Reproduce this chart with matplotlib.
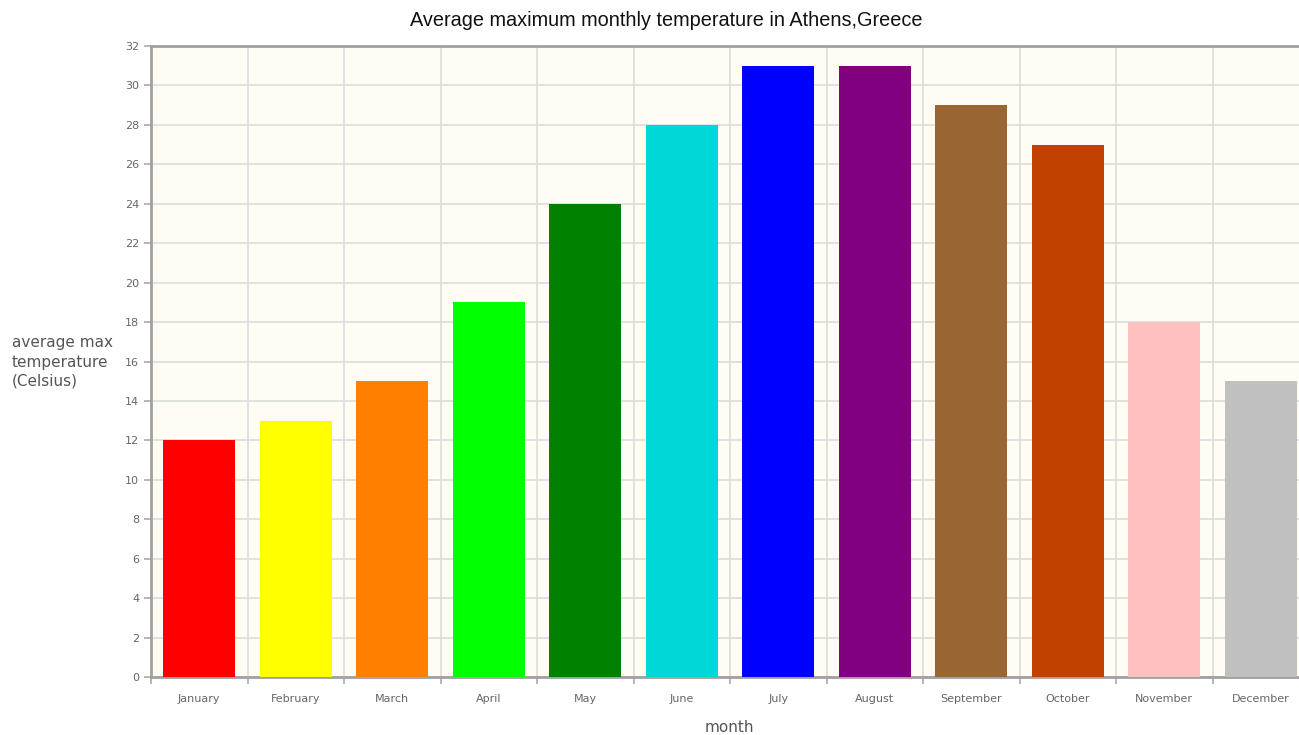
import matplotlib.pyplot as plt
import numpy as np

months = ["January", "February", "March", "April", "May", "June",
          "July", "August", "September", "October", "November", "December"]
temps = [12, 13, 15, 19, 24, 28, 31, 31, 29, 27, 18, 15]
colors = ["#ff0000", "#ffff00", "#ff8000", "#00ff00", "#008000", "#00d8d8",
          "#0000ff", "#800080", "#996633", "#c04000", "#ffc0c0", "#c0c0c0"]

W, H = 1299, 735
fig = plt.figure(figsize=(W / 100, H / 100), dpi=100)
# plot area runs past the right edge, as in the reference
ax = fig.add_axes([151 / W, 1 - 677 / H, (1309 - 151) / W, (677 - 46) / H])
ax.set_facecolor("#fffcf4")

x = np.arange(len(months))
ax.bar(x, temps, width=0.75, color=colors, zorder=3)

ax.set_xlim(-0.5, len(months) - 0.5)
ax.set_ylim(0, 32)
ax.set_yticks(range(0, 33, 2))
ax.set_xticks(x)
ax.set_xticklabels(months)
ax.set_xticks(np.arange(-0.5, len(months), 1), minor=True)

ax.grid(False)
ax.yaxis.grid(True, color="#dcdcdc", linewidth=1.2, zorder=0)
ax.xaxis.grid(True, which="minor", color="#dcdcdc", linewidth=1.2, zorder=0)

ax.tick_params(axis="x", which="major", length=0, pad=12, labelsize=8, labelcolor="#666666")
ax.tick_params(axis="x", which="minor", length=5, width=1.2, color="#aaaaaa")
ax.tick_params(axis="y", length=5, width=1.2, color="#aaaaaa", labelsize=8, labelcolor="#666666")

for s in ["left", "top", "bottom"]:
    ax.spines[s].set_color("#a0a0a0")
    ax.spines[s].set_linewidth(2)
ax.spines["right"].set_visible(False)

fig.text(666 / W, 1 - 20 / H, "Average maximum monthly temperature in Athens,Greece",
         ha="center", va="center", fontsize=14.3, family="Liberation Sans", color="#111111")
fig.text(12 / W, 1 - 362 / H, "average max\ntemperature\n(Celsius)",
         ha="left", va="center", fontsize=11, color="#555555", linespacing=1.35)
fig.text(729 / W, 1 - 728 / H, "month", ha="center", va="center", fontsize=11, color="#555555")

fig.savefig("out.png", dpi=100)
